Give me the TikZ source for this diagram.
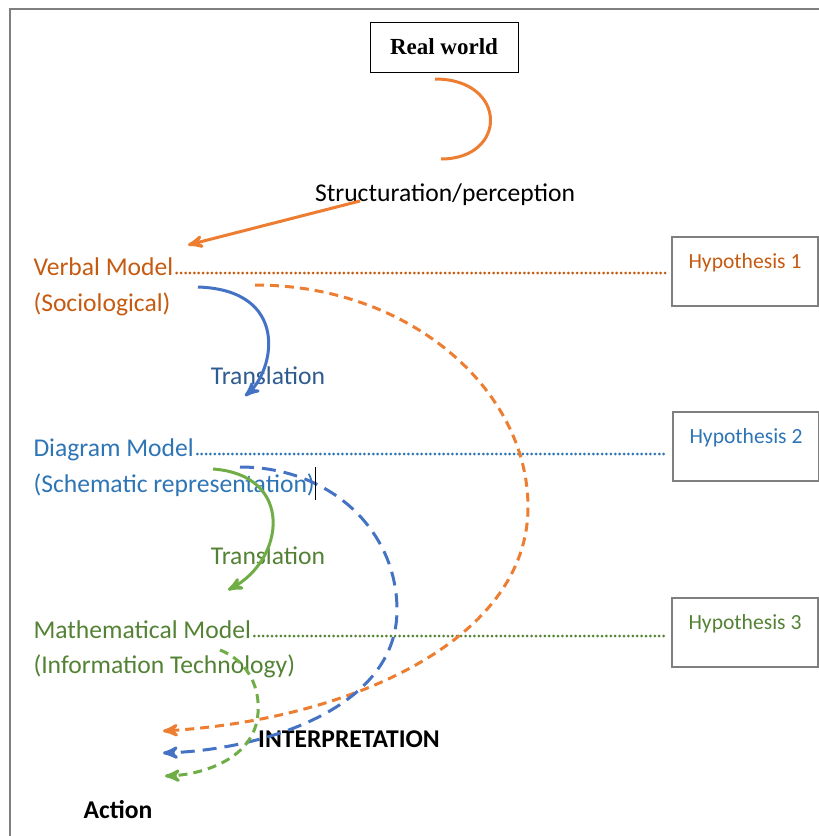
\documentclass[tikz,border=0pt]{standalone}
\usepackage{fontspec}
\setmainfont{Carlito}
\newfontfamily\timesfont{Liberation Serif}
\usepackage{xcolor}
\usepackage{tikz}
\usetikzlibrary{positioning, arrows}

\definecolor{verbalText}{HTML}{C55A11}
\definecolor{verbalLine}{HTML}{ED7D31}
\definecolor{diagramText}{HTML}{2E75B6}
\definecolor{diagramLine}{HTML}{4472C4}
\definecolor{transText}{HTML}{2F5C8F}
\definecolor{mathText}{HTML}{548235}
\definecolor{mathLine}{HTML}{70AD47}
\definecolor{frameGray}{HTML}{7F7F7F}

\begin{document}
\begin{tikzpicture}[x=0.5pt,y=-0.5pt,>=stealth',line width=1.5pt,
    model/.style={anchor=base west,inner sep=0pt,font=\fontsize{12.8}{15}\selectfont},
    label text/.style={inner sep=0pt,font=\fontsize{12.8}{15}\selectfont},
    bold text/.style={inner sep=0pt,font=\bfseries\fontsize{12.8}{15}\selectfont},
    hypbox/.style={draw=frameGray,line width=1pt,minimum width=73pt,minimum height=34.5pt,inner sep=0pt},
    hyptext/.style={inner sep=0pt,font=\fontsize{10.8}{13}\selectfont},
    guide/.style={line width=1.5pt,line cap=round,dash pattern=on 0pt off 2.2pt,shorten >=2pt,shorten <=1pt},
    link/.style={dash pattern=on 4.5pt off 3pt}]
    \useasboundingbox (0,0) rectangle (819,836);
    \draw[frameGray,line width=1pt] (10,836) -- (10,9) -- (819,9);

    \node[draw,line width=0.5pt,minimum width=74pt,minimum height=25pt,
          font=\timesfont\bfseries\fontsize{11.5}{13}\selectfont] (real) at (444,47) {Real world};
    \node[label text] (struct) at (445,195) {Structuration/perception};

    \node[model,text=verbalText] (verbal) at (32,275) {Verbal Model};
    \node[model,text=verbalText] (socio) at (32,311) {(Sociological)};
    \node[model,text=diagramText] (diagram) at (32,456) {Diagram Model};
    \node[model,text=diagramText] (schema) at (32,492) {(Schematic representation)};
    \node[model,text=mathText] (math) at (32,638) {Mathematical Model};
    \node[model,text=mathText] (infotech) at (32,673) {(Information Technology)};

    \node[label text,text=transText] (trans1) at (268,376) {Translation};
    \node[label text,text=mathText] (trans2) at (268,556) {Translation};
    \node[bold text] (interp) at (349,739) {INTERPRETATION};
    \node[bold text] (action) at (118,810) {Action};

    \node[hypbox] (hyp1) at (745,271.5) {};
    \node[hyptext,text=verbalText,below=8pt of hyp1.north] (hyp1text) {Hypothesis 1};
    \node[hypbox] (hyp2) at (746,446.5) {};
    \node[hyptext,text=diagramText,below=8pt of hyp2.north] (hyp2text) {Hypothesis 2};
    \node[hypbox] (hyp3) at (745,632.5) {};
    \node[hyptext,text=mathText,below=8pt of hyp3.north] (hyp3text) {Hypothesis 3};

    \draw[guide,verbalText] ([yshift=1pt]verbal.base east) -- ([yshift=1pt]verbal.base -| hyp1.west);
    \draw[guide,diagramText] ([yshift=1pt]diagram.base east) -- ([yshift=1pt]diagram.base -| hyp2.west);
    \draw[guide,mathText] ([yshift=1pt]math.base east) -- ([yshift=1pt]math.base -| hyp3.west);

    \coordinate (arcTop) at (435,79);
    \coordinate (arcBot) at (441,159);
    \coordinate (percStart) at (360,201);
    \coordinate (percEnd) at (188,245);
    \coordinate (tr1Start) at (198,287);
    \coordinate (tr1End) at (245,396);
    \coordinate (tr2Start) at (213,469);
    \coordinate (tr2End) at (228,590);
    \coordinate (backV) at (255,285);
    \coordinate (backD) at (240,467);
    \coordinate (backM) at (220,650);
    \coordinate (interpV) at (163,731);
    \coordinate (interpD) at (163,753);
    \coordinate (interpM) at (165,776);
    \coordinate (cursorTop) at (315,467);
    \coordinate (cursorBot) at (315,500);

    \draw[verbalLine] (arcTop) .. controls (508,79) and (508,159) .. (arcBot);
    \draw[->,verbalLine] (percStart) -- (percEnd);
    \draw[->,diagramLine] (tr1Start) .. controls (290,290) and (275,370) .. (tr1End);
    \draw[->,mathLine] (tr2Start) .. controls (295,475) and (285,560) .. (tr2End);

    \draw[->,verbalLine,link] (backV) .. controls (410,285) and (528,390) .. (528,507)
        .. controls (528,640) and (350,720) .. (interpV);
    \draw[->,diagramLine,dash pattern=on 7pt off 4pt] (backD) .. controls (330,467) and (397,530) .. (397,610)
        .. controls (397,710) and (260,750) .. (interpD);
    \draw[->,mathLine,link] (backM) .. controls (250,662) and (260,690) .. (258,713)
        .. controls (255,760) and (200,775) .. (interpM);

    \draw[line width=0.5pt] (cursorTop) -- (cursorBot);
\end{tikzpicture}
\end{document}
